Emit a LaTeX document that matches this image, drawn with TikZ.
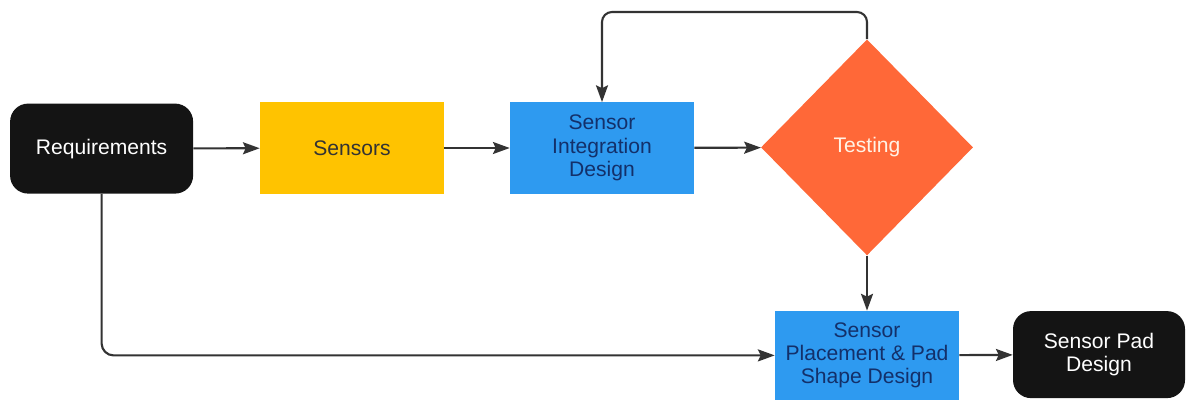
\documentclass[tikz,border=0pt]{standalone}
\usepackage{fontspec}
\setmainfont{Liberation Sans}
\usepackage{xcolor}
\usetikzlibrary{shapes,shapes.geometric,arrows,arrows.meta,positioning}

\definecolor{boxyellow}{HTML}{FFC300}
\definecolor{boxblue}{HTML}{2E9AF0}
\definecolor{boxorange}{HTML}{FF6838}
\definecolor{boxblack}{HTML}{141414}
\definecolor{textnavy}{HTML}{13306A}
\definecolor{linegray}{HTML}{333333}

\begin{document}
\begin{tikzpicture}[
    darkbox/.style={rectangle, rounded corners=0.45cm, fill=boxblack, text=white, minimum width=#1, minimum height=2.25cm, align=center, font=\fontsize{15}{16.5}\selectfont},
    darkbox/.default=4.575cm,
    flatbox/.style={rectangle, fill=#1, minimum width=4.6cm, minimum height=2.28cm, align=center, font=\fontsize{15}{16.5}\selectfont},
    testbox/.style={diamond, fill=boxorange, text=white!90!orange, minimum width=5.3cm, minimum height=5.4cm, inner sep=0pt, font=\fontsize{15}{16.5}\selectfont},
    flow/.style={line width=1.5pt, -{Stealth[length=0.42cm, width=0.3cm, inset=0.07cm]}, draw=linegray},
]
\useasboundingbox (0,0) rectangle (29.8,9.975);

% Main row
\node[darkbox] (req) at (2.54,6.26) {Requirements};
\node[flatbox=boxyellow, text=linegray] (sensors) at (8.8,6.275) {Sensors};
\node[flatbox=boxblue, text=textnavy] (integ) at (15.05,6.275) {Sensor\\Integration\\Design};
\node[testbox] (test) at (21.675,6.29) {Testing};

% Bottom row
\node[flatbox=boxblue, text=textnavy, minimum height=2.225cm] (place) at (21.675,1.09) {Sensor\\Placement \& Pad\\Shape Design};
\node[darkbox=4.3cm, minimum height=2.175cm] (pad) at (27.475,1.11) {Sensor Pad\\Design};

% Feedback loop
\coordinate (loop) at (21.675,9.675);

% Connectors
\draw[flow] (req) -- (sensors);
\draw[flow] (sensors) -- (integ);
\draw[flow] (integ) -- (test);
\draw[flow, rounded corners=0.25cm] (test.north) -- (loop) -| (integ.north);
\draw[flow] (test.south) -- (place.north);
\draw[flow, rounded corners=0.3cm] (req.south) |- (place.west);
\draw[flow] (place) -- (pad);

\end{tikzpicture}
\end{document}
